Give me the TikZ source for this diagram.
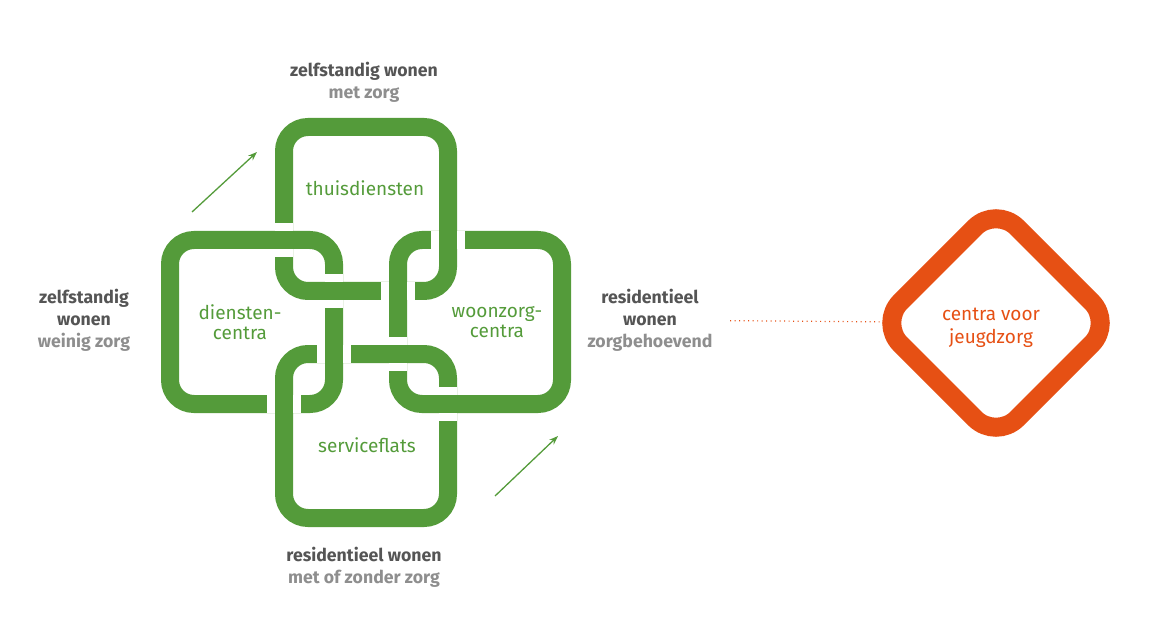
\documentclass[tikz,border=0pt]{standalone}
\usepackage{fontspec}
\setmainfont{Fira Sans}
\usetikzlibrary{arrows.meta}

\definecolor{groen}{HTML}{549B3A}
\definecolor{oranje}{HTML}{E65014}
\definecolor{donker}{HTML}{555555}
\definecolor{licht}{HTML}{8E8E8E}

\begin{document}
\begin{tikzpicture}[
    x=1pt, y=-1pt,
    schakel/.style={draw=groen, line width=18pt, rounded corners=24pt, minimum size=164pt, inner sep=0pt, outer sep=0pt},
    halo/.style={white, line width=34pt},
    brug/.style={groen, line width=18pt},
    kop/.style={font=\fontsize{17.7}{22}\selectfont\bfseries, text=donker, align=center},
    groentekst/.style={font=\fontsize{19}{19.5}\selectfont, text=groen, align=center},
    pijl/.style={groen, line width=1.3pt, -{Stealth[length=9pt, width=6.5pt]}}
]
\useasboundingbox (0,0) rectangle (1160,631);

% de vier schakels
\node[schakel] (thuis) at (366,209) {};
\node[schakel] (links) at (252,322) {};
\node[schakel] (woon) at (480,322) {};
\node[schakel] (service) at (366,436) {};

% kruisingen: welke schakel boven ligt
\coordinate (k1) at (thuis.west |- links.north);
\coordinate (k2) at (links.east |- thuis.south);
\coordinate (k3) at (woon.west |- thuis.south);
\coordinate (k4) at (thuis.east |- woon.north);
\coordinate (k5) at (links.east |- service.north);
\coordinate (k6) at (service.west |- links.south);
\coordinate (k7) at (woon.west |- service.north);
\coordinate (k8) at (service.east |- woon.south);
\foreach \k/\dx/\dy in {k1/9/0, k2/9/0, k3/0/9, k4/0/9, k5/0/9, k6/0/9, k7/9/0, k8/9/0} {
  \draw[halo] ([shift={(-\dx,-\dy)}]\k) -- ([shift={(\dx,\dy)}]\k);
  \draw[brug] ([shift={(-1.15*\dx,-1.15*\dy)}]\k) -- ([shift={(1.15*\dx,1.15*\dy)}]\k);
}

% teksten in de schakels
\node[groentekst] (tthuis) at (365,188) {thuisdiensten};
\node[groentekst] (tdienst) at (240,322) {diensten-\\centra};
\node[groentekst] (twoon) at (497,322) {woonzorg-\\centra};
\node[groentekst] (tservice) at (367,445) {serviceflats};

% woonvormen
\node[kop] (zmet) at (364,82) {zelfstandig wonen\\\color{licht}met zorg};
\node[kop] (zweinig) at (84,320) {zelfstandig\\wonen\\\color{licht}weinig zorg};
\node[kop] (resr) at (650,320) {residentieel\\wonen\\\color{licht}zorgbehoevend};
\node[kop] (resm) at (364,567) {residentieel wonen\\\color{licht}met of zonder zorg};

% pijlen
\coordinate (p1) at (192,212);
\coordinate (q1) at (257,152);
\coordinate (p2) at (495,496);
\coordinate (q2) at (558,436);
\draw[pijl] (p1) -- (q1);
\draw[pijl] (p2) -- (q2);

% jeugdzorg
\node[draw=oranje, line width=19pt, rounded corners=30pt, minimum size=165pt, inner sep=0pt, outer sep=0pt, rotate=45] (ruit) at (996,323) {};
\node[font=\fontsize{19}{23}\selectfont, text=oranje, align=center] (jeugd) at (991,328) {centra voor\\jeugdzorg};
\draw[oranje, line width=1.2pt, dash pattern=on 1.2pt off 3.3pt, shorten <=14pt] (resr) -- (ruit);
\end{tikzpicture}
\end{document}
